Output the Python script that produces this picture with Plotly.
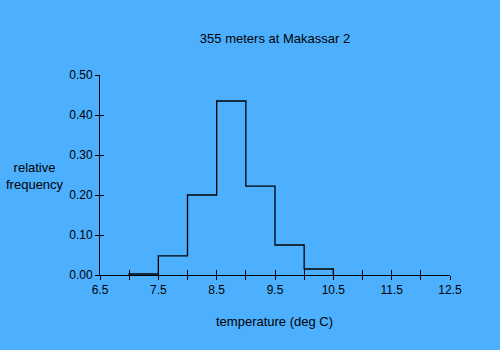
import plotly.graph_objects as go

# Temperature histogram (relative frequency per 0.5 deg C bin)
bin_edges = [7.0, 7.5, 8.0, 8.5, 9.0, 9.5, 10.0, 10.5]
rel_freq = [0.0025, 0.048, 0.20, 0.435, 0.222, 0.075, 0.015]
x_ticks = [6.5, 7.0, 7.5, 8.0, 8.5, 9.0, 9.5, 10.0, 10.5, 11.0, 11.5, 12.0, 12.5]
x_tick_labels = ["6.5", "", "7.5", "", "8.5", "", "9.5", "", "10.5", "", "11.5", "", "12.5"]
y_ticks = [0.0, 0.1, 0.2, 0.3, 0.4, 0.5]
y_tick_labels = ["0.00", "0.10", "0.20", "0.30", "0.40", "0.50"]

bg = "rgb(77,176,255)"
family = "Liberation Sans, Arial, sans-serif"
font = dict(family=family, size=12, color="black")
title_font = dict(family=family, size=13, color="black")

# step outline: start at the baseline, climb through each bin, drop back at the end
xs = [bin_edges[0]] + bin_edges
ys = [0.0] + rel_freq + [0.0]

fig = go.Figure()
fig.add_trace(go.Scatter(
    x=xs, y=ys, mode="lines", line=dict(color="black", width=1.3, shape="hv"),
    hoverinfo="skip", showlegend=False,
))
# empty trace on the overlay axes so their inward tick halves are drawn
fig.add_trace(go.Scatter(x=[], y=[], xaxis="x2", yaxis="y2", showlegend=False))

axis_common = dict(showgrid=False, zeroline=False, showline=True, linecolor="black",
                   linewidth=1, tickcolor="black", tickwidth=1)

fig.update_layout(
    width=500, height=350,
    paper_bgcolor=bg, plot_bgcolor=bg,
    margin=dict(l=100, r=50, t=75, b=75),
    font=font,
    title=dict(text="355 meters at Makassar 2", x=275 / 500, xanchor="center",
               y=1 - 38 / 350, yanchor="middle", font=title_font),
    xaxis=dict(range=[6.5, 12.5], tickvals=x_ticks, ticktext=x_tick_labels,
               ticks="outside", ticklen=4, **axis_common),
    yaxis=dict(range=[0, 0.5], tickvals=y_ticks, ticktext=y_tick_labels,
               ticks="outside", ticklen=4, **axis_common),
    xaxis2=dict(range=[6.5, 12.5], overlaying="x", anchor="y2", side="bottom",
                tickvals=x_ticks, ticks="inside", ticklen=5, showticklabels=False,
                **axis_common),
    yaxis2=dict(range=[0, 0.5], overlaying="y", anchor="x2", side="left",
                tickvals=y_ticks, ticks="inside", ticklen=4, showticklabels=False,
                **axis_common),
    annotations=[
        dict(text="relative<br>frequency", x=35, y=176, showarrow=False,
             font=title_font, align="center"),
        dict(text="temperature (deg C)", x=274, y=321, showarrow=False, font=title_font),
    ],
)
# annotation positions are in pixels; convert to paper coordinates
plot_w, plot_h = 500 - 150, 350 - 150
for ann in fig.layout.annotations:
    px, py = ann.x, ann.y
    ann.xref = "paper"
    ann.yref = "paper"
    ann.x = (px - 100) / plot_w
    ann.y = (350 - 75 - py) / plot_h
    ann.xanchor = "center"
    ann.yanchor = "middle"

fig.write_html("out.html")
